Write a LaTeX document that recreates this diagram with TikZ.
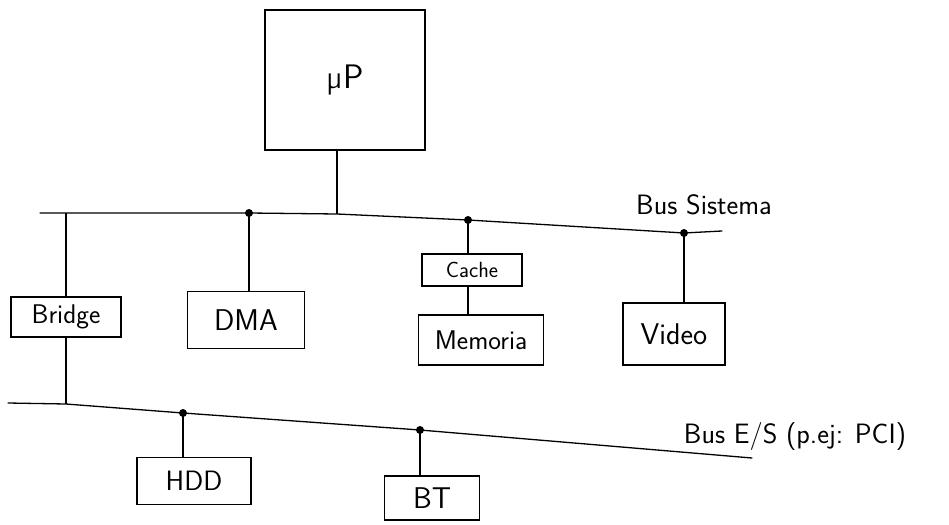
\documentclass[tikz,border=0pt]{standalone}
\usepackage{fontspec}
\usetikzlibrary{positioning}

\begin{document}
\begin{tikzpicture}[
  x=1pt, y=-1pt, line width=1.3pt,
  sz/.style={font=\sffamily\fontsize{#1}{#1}\selectfont},
  box/.style={draw,line width=1.3pt,inner sep=0pt,align=center},
  bus/.style={line width=1.3pt,line cap=round},
  link/.style={line width=1.2pt},
  dot/.style={circle,fill=black,inner sep=0pt,minimum size=8pt},
  lbl/.style={inner sep=1pt}]

  \useasboundingbox (0,0) rectangle (949,524);

  % boxes
  \node[box,minimum width=160pt,minimum height=140pt,sz=34] (cpu) at (345,80) {µP};
  \node[box,minimum width=110pt,minimum height=40pt,sz=27] (bridge) at (66,317) {Bridge};
  \node[box,minimum width=117pt,minimum height=57pt,sz=30] (dma) at (246,320) {DMA};
  \node[box,minimum width=100pt,minimum height=32pt,sz=22] (cache) at (472,270) {Cache};
  \node[box,minimum width=125pt,minimum height=50pt,sz=27] (mem) at (481,340) {Memoria};
  \node[box,minimum width=102pt,minimum height=62pt,sz=30] (video) at (674,334) {Video};
  \node[box,minimum width=114pt,minimum height=47pt,sz=28] (hdd) at (194,481) {HDD};
  \node[box,minimum width=95pt,minimum height=44pt,sz=30] (bt) at (432,498) {BT};

  % bus sistema
  \coordinate (sysL) at (40,213);
  \coordinate (jbri) at (66,213);
  \coordinate (jdma) at (249,213);
  \coordinate (jcpu) at (337,214);
  \coordinate (jcac) at (468,220);
  \coordinate (jvid) at (684,233);
  \coordinate (sysR) at (722,231);
  \draw[bus] (sysL) -- (jbri) -- (jdma) -- (jcpu) -- (jcac) -- (jvid) -- (sysR);
  \node[lbl,sz=28] (syslbl) at (704,205) {Bus Sistema};

  % bus E/S
  \coordinate (ioL) at (8,403);
  \coordinate (jbio) at (66,404);
  \coordinate (jhdd) at (183,413);
  \coordinate (jbt) at (420,430);
  \coordinate (ioR) at (752,458);
  \draw[bus] (ioL) -- (jbio) -- (jhdd) -- (jbt) -- (ioR);
  \node[lbl,sz=28] (iolbl) at (795,437) {Bus E/S (p.ej: PCI)};

  \foreach \j in {jdma,jcac,jvid,jhdd,jbt}
    \node[dot] at (\j) {};

  % links
  \draw[link] (cpu.south -| jcpu) -- (jcpu);
  \draw[link] (jbri) -- (bridge.north -| jbri);
  \draw[link] (bridge.south -| jbio) -- (jbio);
  \draw[link] (jdma) -- (dma.north -| jdma);
  \draw[link] (jcac) -- (cache.north -| jcac);
  \draw[link] (cache.south -| jcac) -- (mem.north -| jcac);
  \draw[link] (jvid) -- (video.north -| jvid);
  \draw[link] (jhdd) -- (hdd.north -| jhdd);
  \draw[link] (jbt) -- (bt.north -| jbt);
\end{tikzpicture}
\end{document}
